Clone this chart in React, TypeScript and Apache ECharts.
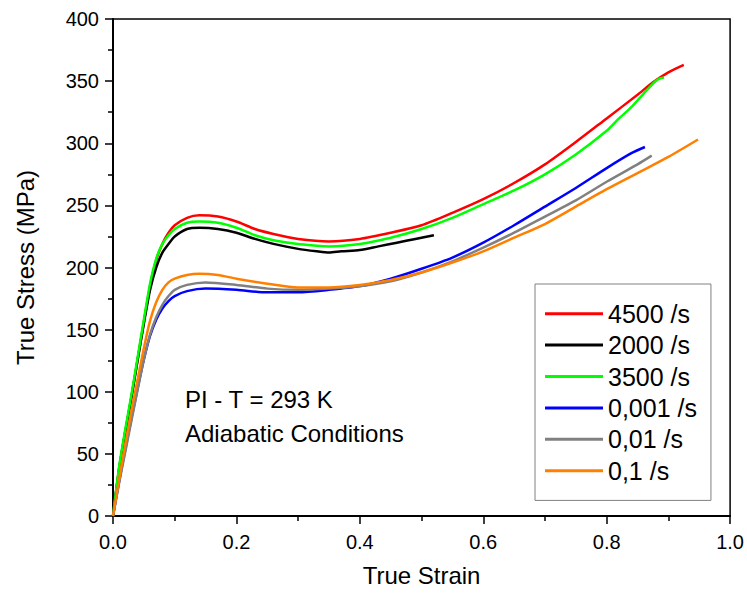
import React, { useEffect, useRef } from "react";
import * as echarts from "echarts";

const seriesNames = ["4500 /s", "2000 /s", "3500 /s", "0,001 /s", "0,01 /s", "0,1 /s"];
const seriesColors = ["#ff0000", "#000000", "#00ff00", "#0000ff", "#808080", "#ff8000"];

const strain4500 = [0, 0.01, 0.02, 0.03, 0.04, 0.05, 0.06, 0.07, 0.08, 0.09, 0.1, 0.12, 0.14, 0.17, 0.2, 0.23, 0.26, 0.3, 0.35, 0.4, 0.45, 0.5, 0.55, 0.6, 0.65, 0.7, 0.75, 0.8, 0.85, 0.875, 0.9, 0.925];
const stress4500 = [0, 38, 68, 96, 126, 156, 185, 206, 219, 228, 234, 240, 242, 241, 237, 231, 227, 223, 221, 223, 228, 234, 244, 255, 268, 283, 301, 320, 339, 349, 357, 363];

const strain2000 = [0, 0.01, 0.02, 0.03, 0.04, 0.05, 0.06, 0.07, 0.08, 0.09, 0.1, 0.12, 0.14, 0.17, 0.2, 0.23, 0.26, 0.3, 0.33, 0.35, 0.37, 0.4, 0.43, 0.46, 0.49, 0.52];
const stress2000 = [0, 38, 68, 96, 126, 155, 182, 200, 212, 219, 225, 231, 232, 231, 228, 223, 219, 215, 213, 212, 213, 214, 217, 220, 223, 226];

const strain3500 = [0, 0.01, 0.02, 0.03, 0.04, 0.05, 0.06, 0.07, 0.08, 0.09, 0.1, 0.12, 0.14, 0.17, 0.2, 0.23, 0.26, 0.3, 0.35, 0.4, 0.45, 0.5, 0.55, 0.6, 0.65, 0.7, 0.75, 0.8, 0.82, 0.84, 0.86, 0.875, 0.885, 0.893];
const stress3500 = [0, 40, 70, 98, 128, 158, 187, 207, 219, 226, 231, 236, 237, 236, 232, 226, 222, 219, 217, 219, 224, 231, 240, 251, 262, 275, 291, 310, 320, 329, 340, 348, 352, 353];

const strain0001 = [0, 0.01, 0.02, 0.03, 0.04, 0.05, 0.06, 0.07, 0.08, 0.09, 0.1, 0.12, 0.15, 0.2, 0.25, 0.3, 0.35, 0.4, 0.45, 0.5, 0.55, 0.6, 0.65, 0.7, 0.75, 0.8, 0.84, 0.862];
const stress0001 = [0, 28, 54, 79, 103, 126, 145, 158, 167, 173, 177, 181, 183, 182, 180, 180, 182, 185, 191, 199, 208, 220, 234, 249, 264, 280, 292, 297];

const strain001 = [0, 0.01, 0.02, 0.03, 0.04, 0.05, 0.06, 0.07, 0.08, 0.09, 0.1, 0.12, 0.15, 0.2, 0.25, 0.3, 0.35, 0.4, 0.45, 0.5, 0.55, 0.6, 0.65, 0.7, 0.75, 0.8, 0.85, 0.873];
const stress001 = [0, 27, 52, 77, 102, 126, 146, 160, 170, 177, 182, 186, 188, 186, 183, 182, 183, 185, 189, 196, 205, 216, 228, 241, 254, 269, 283, 290];

const strain01 = [0, 0.01, 0.02, 0.03, 0.04, 0.05, 0.06, 0.07, 0.08, 0.09, 0.1, 0.12, 0.14, 0.17, 0.2, 0.25, 0.3, 0.35, 0.4, 0.45, 0.5, 0.55, 0.6, 0.65, 0.7, 0.75, 0.8, 0.85, 0.9, 0.948];
const stress01 = [0, 30, 58, 85, 110, 135, 157, 172, 182, 188, 191, 194, 195, 194, 191, 187, 184, 184, 186, 190, 196, 204, 213, 224, 235, 249, 263, 276, 289, 303];

const strains = [strain4500, strain2000, strain3500, strain0001, strain001, strain01];
const stresses = [stress4500, stress2000, stress3500, stress0001, stress001, stress01];

const annotationLines = ["PI - T = 293 K", "Adiabatic Conditions"];

const FONT = "'Liberation Sans', Arial, sans-serif";

export default function App() {
  const ref = useRef<HTMLDivElement>(null);
  useEffect(() => {
    if (!ref.current) return;
    const chart = echarts.init(ref.current, undefined, { renderer: "svg" });
    const series = seriesNames.map((name, i) => ({
      name,
      type: "line",
      data: strains[i].map((x, j) => [x, stresses[i][j]]),
      showSymbol: false,
      symbol: "none",
      smooth: 0.25,
      lineStyle: { color: seriesColors[i], width: 2.5 },
      itemStyle: { color: seriesColors[i] },
      z: 2,
    }));
    chart.setOption({
      animation: false,
      backgroundColor: "#ffffff",
      textStyle: { fontFamily: FONT },
      grid: {
        left: 113,
        right: 15,
        top: 19,
        bottom: 77,
        show: true,
        borderColor: "#000",
        borderWidth: 1.5,
        backgroundColor: "transparent",
      },
      xAxis: {
        type: "value",
        min: 0,
        max: 1,
        interval: 0.2,
        name: "True Strain",
        nameLocation: "middle",
        nameGap: 47,
        nameTextStyle: { fontSize: 24, color: "#000", fontFamily: FONT },
        axisLine: { show: true, lineStyle: { color: "#000", width: 2 } },
        axisTick: { show: true, inside: false, length: 8, lineStyle: { color: "#000", width: 1.5 } },
        minorTick: { show: true, splitNumber: 2, length: 5, lineStyle: { color: "#000", width: 1.5 } },
        axisLabel: {
          fontSize: 20,
          color: "#000",
          fontFamily: FONT,
          margin: 16,
          formatter: (v: number) => v.toFixed(1),
        },
        splitLine: { show: false },
      },
      yAxis: {
        type: "value",
        min: 0,
        max: 400,
        interval: 50,
        name: "True Stress (MPa)",
        nameLocation: "middle",
        nameGap: 76,
        nameTextStyle: { fontSize: 24, color: "#000", fontFamily: FONT },
        axisLine: { show: true, lineStyle: { color: "#000", width: 2 } },
        axisTick: { show: true, inside: false, length: 8, lineStyle: { color: "#000", width: 1.5 } },
        minorTick: { show: true, splitNumber: 2, length: 5, lineStyle: { color: "#000", width: 1.5 } },
        axisLabel: { fontSize: 20, color: "#000", fontFamily: FONT, margin: 14 },
        splitLine: { show: false },
      },
      legend: {
        orient: "vertical",
        left: 535,
        top: 284,
        padding: [17, 14, 17, 10],
        borderColor: "#808080",
        borderWidth: 1,
        backgroundColor: "#fff",
        icon: "rect",
        itemWidth: 58,
        itemHeight: 3,
        itemGap: 6,
        textStyle: { fontSize: 25, color: "#000", fontFamily: FONT, lineHeight: 25.4 },
        data: seriesNames,
      },
      graphic: annotationLines.map((t, i) => ({
        type: "text",
        x: 185,
        y: 399 + i * 34,
        style: {
          text: t,
          font: `24px ${FONT}`,
          fill: "#000",
          verticalAlign: "middle",
          textVerticalAlign: "middle",
        },
      })),
      series,
    });
    return () => chart.dispose();
  }, []);
  return (
    <div
      ref={ref}
      style={{ position: "absolute", left: 0, top: 0, width: 747, height: 593 }}
    />
  );
}
